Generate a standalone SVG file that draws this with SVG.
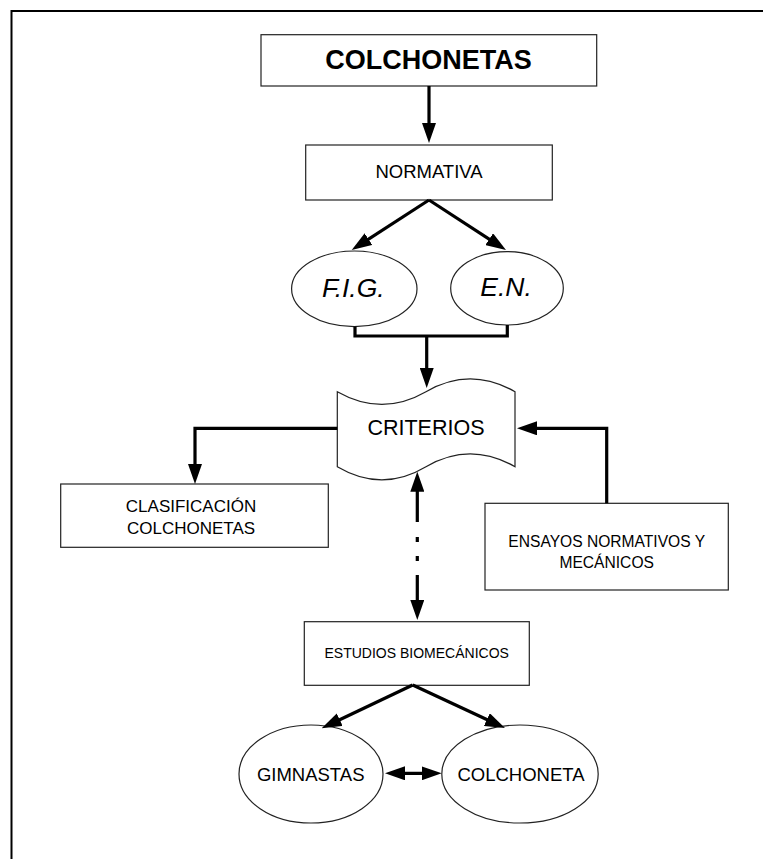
<svg xmlns="http://www.w3.org/2000/svg" width="763" height="859" viewBox="0 0 763 859">
<style>
.box{fill:#fff;stroke:#222;stroke-width:1.2}
.con{fill:none;stroke:#000;stroke-width:3.2}
text{font-family:"Liberation Sans",Arial,sans-serif;fill:#000;text-anchor:middle}
</style>
<defs>
<marker id="ah" viewBox="0 0 20 14" markerWidth="20" markerHeight="14" refX="10" refY="7" orient="auto-start-reverse" markerUnits="userSpaceOnUse">
<path d="M0,0 L20,7 L0,14 z" fill="#000"/>
</marker>
</defs>
<rect width="763" height="859" fill="#fff"/>
<path d="M11.5,859 V11 H763" fill="none" stroke="#000" stroke-width="2"/>

<g id="colchonetas">
<rect class="box" x="261" y="34.7" width="335.7" height="51.3"/>
<text x="428.5" y="69" font-size="27" font-weight="bold">COLCHONETAS</text>
</g>
<g id="normativa">
<rect class="box" x="305.7" y="145" width="246.6" height="55"/>
<text x="429" y="178.3" font-size="18.5">NORMATIVA</text>
</g>
<g id="fig">
<ellipse class="box" cx="354.3" cy="288.8" rx="62.7" ry="37.8"/>
<text x="353.3" y="296.5" font-size="26.5" font-style="italic">F.I.G.</text>
</g>
<g id="en">
<ellipse class="box" cx="507" cy="288.3" rx="56.3" ry="36.7"/>
<text x="506" y="296" font-size="26.5" font-style="italic">E.N.</text>
</g>
<g id="criterios">
<path class="box" d="M337.3,391.7 Q382,417 426,391.7 Q470,366 515,391.7 L515,466.7 Q470,441 426,466.7 Q382,493 337.3,466.7 Z"/>
<text x="426" y="435" font-size="21.5">CRITERIOS</text>
</g>
<g id="clasificacion">
<rect class="box" x="60.7" y="484" width="267.6" height="63.3"/>
<text x="191" y="511.5" font-size="17">CLASIFICACIÓN</text>
<text x="191" y="533.5" font-size="17">COLCHONETAS</text>
</g>
<g id="ensayos">
<rect class="box" x="485" y="503.3" width="243.3" height="86.7"/>
<text x="606.7" y="546.5" font-size="15.6">ENSAYOS NORMATIVOS Y</text>
<text x="606.7" y="567.5" font-size="15.6">MECÁNICOS</text>
</g>
<g id="estudios">
<rect class="box" x="304.3" y="621.7" width="225" height="63.6"/>
<text x="416.7" y="658" font-size="14">ESTUDIOS BIOMECÁNICOS</text>
</g>
<g id="gimnastas">
<ellipse class="box" cx="311" cy="774" rx="72" ry="49"/>
<text x="310.7" y="780.5" font-size="18.5">GIMNASTAS</text>
</g>
<g id="colchoneta">
<ellipse class="box" cx="520" cy="774" rx="78.2" ry="49"/>
<text x="521" y="780.5" font-size="18.5">COLCHONETA</text>
</g>

<g id="connectors">
<path class="con" d="M429,86 V133" marker-end="url(#ah)"/>
<path class="con" d="M429,200 L360.1,244.6" marker-end="url(#ah)"/>
<path class="con" d="M429,200 L497.6,244.6" marker-end="url(#ah)"/>
<path class="con" d="M355,326.5 V336 H507.3 V325"/>
<path class="con" d="M426.7,336 V378" marker-end="url(#ah)"/>
<path class="con" d="M337.3,428.3 H195 V474" marker-end="url(#ah)"/>
<path class="con" d="M606.7,503.3 V428.3 H527" marker-end="url(#ah)"/>
<path class="con" d="M417.3,481.7 V610" stroke-dasharray="40.3 15 5 14 5 14 40" marker-start="url(#ah)" marker-end="url(#ah)"/>
<path class="con" d="M412.7,685 L330.7,724" marker-end="url(#ah)"/>
<path class="con" d="M412.7,685 L495.9,723.8" marker-end="url(#ah)"/>
<path class="con" d="M395,773.3 H431.7" marker-start="url(#ah)" marker-end="url(#ah)"/>
</g>
</svg>
